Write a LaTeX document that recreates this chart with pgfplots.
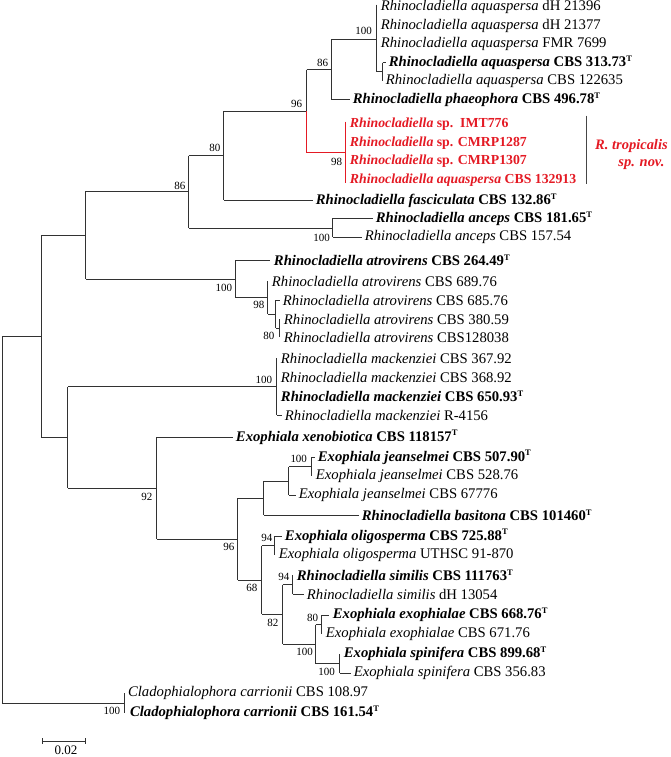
\documentclass[border=0pt]{standalone}
\usepackage{pgfplots}
\pgfplotsset{compat=1.18}
\usepackage{fontspec}
\setmainfont{Liberation Serif}
\definecolor{tred}{RGB}{228,26,36}
\definecolor{tline}{RGB}{50,50,50}
\definecolor{tbar}{RGB}{70,70,70}
% horizontal segment: y, x0, x1
\newcommand{\hs}[3]{\addplot[tline, line width=0.9pt] coordinates {(#2,#1) (#3,#1)};}
% vertical segment: x, y0, y1
\newcommand{\vs}[3]{\addplot[tline, line width=0.9pt] coordinates {(#1,#2) (#1,#3)};}
\newcommand{\hsr}[3]{\addplot[tred, line width=1.1pt] coordinates {(#2,#1) (#3,#1)};}
\newcommand{\vsr}[3]{\addplot[tred, line width=1.1pt] coordinates {(#1,#2) (#1,#3)};}
\newcommand{\tip}[3]{\node[anchor=west, inner sep=0pt, font=\fontsize{14.7}{16}\selectfont] at (axis cs:#1,#2) {#3};}
\newcommand{\rtip}[3]{\node[anchor=west, inner sep=0pt, text=tred, font=\fontsize{13.8}{16}\selectfont\bfseries] at (axis cs:#1,#2) {#3};}
\newcommand{\bs}[3]{\node[anchor=center, inner sep=0pt, font=\fontsize{11}{12}\selectfont] at (axis cs:#1,#2) {#3};}
\newcommand{\T}{\textsuperscript{\fontsize{8.5}{9}\selectfont T}}
\begin{document}
\begin{tikzpicture}
\begin{axis}[
  width=671pt, height=757pt, scale only axis,
  xmin=0, xmax=671, ymin=0, ymax=757, y dir=reverse,
  hide axis, clip=false
]
\addplot[draw=none] coordinates {(0,0) (671,757)};
% ---- root and backbone
\vs{2}{336}{703}
\hs{336}{2}{41}
\hs{703}{2}{125}
\vs{125}{693}{713}
\vs{41}{235}{437}
\hs{235}{41}{86}
\hs{437}{41}{68}
\vs{86}{191}{279}
\hs{191}{86}{189}
\hs{279}{86}{236}
\vs{189}{155}{227.5}
\hs{155}{189}{224}
\hs{227.5}{189}{333}
\vs{224}{110.5}{200}
\hs{110.5}{224}{307}
\hs{200}{224}{313}
\vs{307}{69}{110.5}
\vsr{307}{110.5}{152}
\hs{69}{307}{332}
\hsr{152}{307}{346}
\vsr{346}{121}{182}
\vs{332}{38.5}{99}
\hs{38.5}{332}{377}
\hs{99}{332}{350}
\vs{377}{4}{71}
\hs{71}{377}{383}
\vs{383}{62}{80}
\hs{62}{383}{386}
\vs{333}{218}{237}
\hs{218}{333}{373}
\hs{237}{333}{362}
% atrovirens
\vs{236}{260}{297.5}
\hs{260}{236}{270}
\hs{297.5}{236}{268}
\vs{268}{281}{314}
\hs{314}{268}{276}
\vs{276}{300}{328}
\hs{300}{276}{280}
\hs{328}{276}{280}
\vs{280}{319}{337}
% mackenziei + rest
\vs{68}{386.5}{488}
\hs{386.5}{68}{277}
\hs{488}{68}{157}
\vs{277}{358}{415}
\hs{415}{277}{282}
\vs{157}{437}{539}
\hs{437}{157}{233}
\hs{539}{157}{238}
\vs{238}{498}{580}
\hs{498}{238}{264}
\hs{580}{238}{262}
\vs{264}{481}{515}
\hs{481}{264}{289}
\hs{515}{264}{359}
\vs{289}{466.5}{495}
\hs{466.5}{289}{312}
\hs{495}{289}{296}
\vs{312}{457}{476}
\hs{457}{312}{315}
\vs{262}{545.5}{614}
\hs{545.5}{262}{275}
\hs{614}{262}{283}
\vs{275}{536}{555}
\hs{536}{275}{282}
\vs{283}{584.5}{644}
\hs{584.5}{283}{293}
\hs{644}{283}{316}
\vs{293}{575}{594}
\hs{594}{293}{304}
\vs{316}{624.5}{663.5}
\hs{624.5}{316}{322}
\hs{663.5}{316}{340}
\vs{322}{615}{634}
\hs{615}{322}{329}
\vs{340}{654}{673}
\hs{673}{340}{351}
% clade bar
\addplot[tbar, line width=1.1pt] coordinates {(587,115) (587,183)};
% scale bar
\hs{741}{42}{86}
\vs{42}{738}{744}
\vs{86}{738}{744}
\node[anchor=center, inner sep=0pt, font=\fontsize{13}{15}\selectfont] at (axis cs:66,750) {0.02};
% ---- tips
\tip{381}{6}{\textit{Rhinocladiella aquaspersa} dH 21396}
\tip{381}{25}{\textit{Rhinocladiella aquaspersa} dH 21377}
\tip{381}{43}{\textit{Rhinocladiella aquaspersa} FMR 7699}
\tip{389}{62}{\textbf{\textit{Rhinocladiella aquaspersa} CBS 313.73\T}}
\tip{386}{80}{\textit{Rhinocladiella aquaspersa} CBS 122635}
\tip{353}{99}{\textbf{\textit{Rhinocladiella phaeophora} CBS 496.78\T}}
\rtip{350}{124}{\textit{Rhinocladiella} sp.\ \ IMT776}
\rtip{350}{143}{\textit{Rhinocladiella} sp. CMRP1287}
\rtip{350}{161}{\textit{Rhinocladiella} sp. CMRP1307}
\rtip{350}{180}{\textit{Rhinocladiella aquaspersa} CBS 132913}
\tip{316}{200}{\textbf{\textit{Rhinocladiella fasciculata} CBS 132.86\T}}
\tip{376}{218}{\textbf{\textit{Rhinocladiella anceps} CBS 181.65\T}}
\tip{365}{237}{\textit{Rhinocladiella anceps} CBS 157.54}
\tip{274}{260}{\textbf{\textit{Rhinocladiella atrovirens} CBS 264.49\T}}
\tip{272}{281}{\textit{Rhinocladiella atrovirens} CBS 689.76}
\tip{283}{300}{\textit{Rhinocladiella atrovirens} CBS 685.76}
\tip{284}{319}{\textit{Rhinocladiella atrovirens} CBS 380.59}
\tip{284}{337}{\textit{Rhinocladiella atrovirens} CBS128038}
\tip{281}{358}{\textit{Rhinocladiella mackenziei} CBS 367.92}
\tip{281}{377}{\textit{Rhinocladiella mackenziei} CBS 368.92}
\tip{281}{396}{\textbf{\textit{Rhinocladiella mackenziei} CBS 650.93\T}}
\tip{285}{415}{\textit{Rhinocladiella mackenziei} R-4156}
\tip{236}{437}{\textbf{\textit{Exophiala xenobiotica} CBS 118157\T}}
\tip{318}{457}{\textbf{\textit{Exophiala jeanselmei} CBS 507.90\T}}
\tip{316}{476}{\textit{Exophiala jeanselmei} CBS 528.76}
\tip{299}{495}{\textit{Exophiala jeanselmei} CBS 67776}
\tip{362}{515}{\textbf{\textit{Rhinocladiella basitona} CBS 101460\T}}
\tip{285}{536}{\textbf{\textit{Exophiala oligosperma} CBS 725.88\T}}
\tip{279}{555}{\textit{Exophiala oligosperma} UTHSC 91-870}
\tip{297}{575}{\textbf{\textit{Rhinocladiella similis} CBS 111763\T}}
\tip{307}{594}{\textit{Rhinocladiella similis} dH 13054}
\tip{333}{615}{\textbf{\textit{Exophiala exophialae} CBS 668.76\T}}
\tip{326}{634}{\textit{Exophiala exophialae} CBS 671.76}
\tip{344}{654}{\textbf{\textit{Exophiala spinifera} CBS 899.68\T}}
\tip{354}{673}{\textit{Exophiala spinifera} CBS 356.83}
\tip{128}{693}{\textit{Cladophialophora carrionii} CBS 108.97}
\tip{130}{713}{\textbf{\textit{Cladophialophora carrionii} CBS 161.54\T}}
% clade name
\node[anchor=center, inner sep=0pt, text=tred, font=\fontsize{14.5}{16}\selectfont\bfseries\itshape] at (axis cs:632,145) {R. tropicalis};
\node[anchor=center, inner sep=0pt, text=tred, font=\fontsize{14.5}{16}\selectfont\bfseries\itshape] at (axis cs:642,164) {sp. nov.};
% ---- bootstrap values
\bs{364}{30}{100}
\bs{323}{62}{86}
\bs{297}{103}{96}
\bs{337}{161}{98}
\bs{215}{147}{80}
\bs{180}{185}{86}
\bs{322}{237}{100}
\bs{224}{287}{100}
\bs{259}{305}{98}
\bs{269}{336}{80}
\bs{264}{380}{100}
\bs{147}{497}{92}
\bs{299}{459}{100}
\bs{229}{547}{96}
\bs{267}{538}{94}
\bs{252}{588}{68}
\bs{284}{577}{94}
\bs{273}{623}{82}
\bs{313}{618}{80}
\bs{305}{652}{100}
\bs{327}{672}{100}
\bs{112}{711}{100}
\end{axis}
\end{tikzpicture}
\end{document}
